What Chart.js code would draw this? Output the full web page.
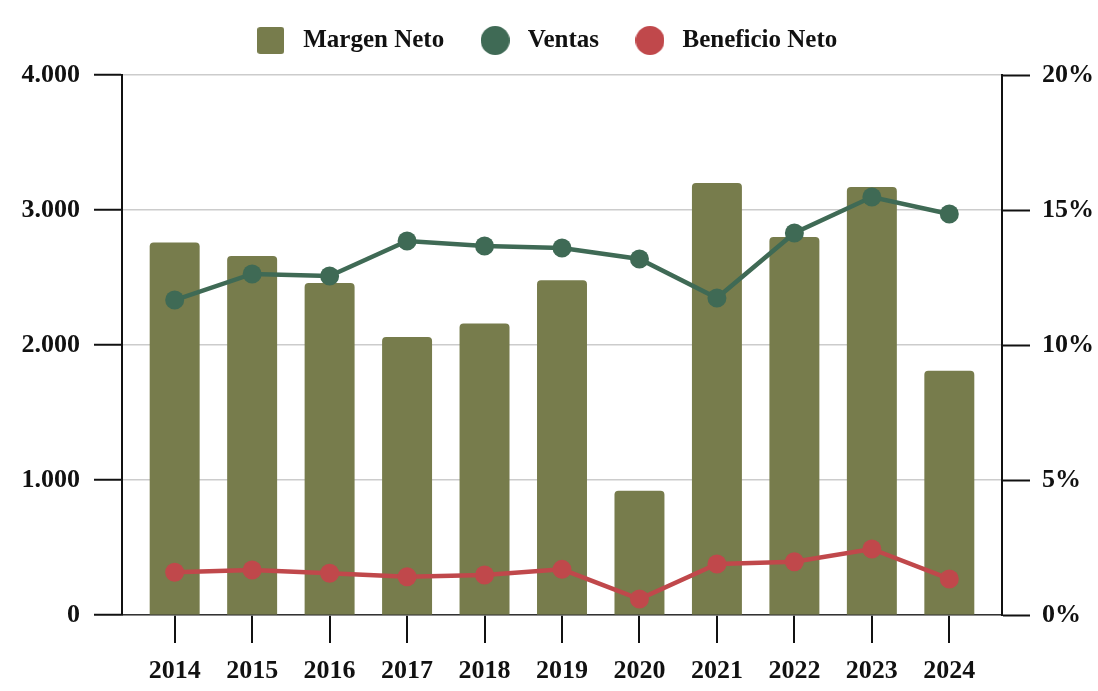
<!DOCTYPE html>
<html>
<head>
<meta charset="utf-8">
<script src="https://cdn.jsdelivr.net/npm/chart.js@4/dist/chart.umd.min.js"></script>
<style>
  html, body { margin: 0; padding: 0; background: #fff; }
  #wrap { width: 1098px; height: 691px; }
</style>
</head>
<body>
<div id="wrap"><canvas id="chart"></canvas></div>
<script>
// values
const years = ["2014", "2015", "2016", "2017", "2018", "2019", "2020", "2021", "2022", "2023", "2024"];
const margenNeto = [13.8, 13.3, 12.3, 10.3, 10.8, 12.4, 4.6, 16.0, 14.0, 15.85, 9.05];   // %
const ventas = [2333, 2526, 2511, 2770, 2733, 2719, 2637, 2348, 2830, 3096, 2970];
const beneficioNeto = [316, 333, 309, 284, 296, 338, 118, 378, 395, 489, 267];
const leftTicks = [0, 1000, 2000, 3000, 4000];
const rightTicks = [0, 5, 10, 15, 20];

const OLIVE = "#777c4c", GREEN = "#3f6a55", RED = "#c0484b";
const FAMILY = "'Liberation Serif', 'Times New Roman', serif";
const FONT = { family: FAMILY, size: 26, weight: "bold" };
const LEGEND_FONT = { family: FAMILY, size: 25, weight: "bold" };

// x runs on index positions so the outer categories get a little extra room
const pts = (arr) => arr.map((v, i) => ({ x: i, y: v }));
const EDGE = 0.68;

// legend symbols as small canvases
function legendSymbol(kind, color, size) {
  const c = document.createElement("canvas");
  c.width = size; c.height = size;
  const g = c.getContext("2d");
  g.fillStyle = color;
  g.beginPath();
  if (kind === "square") g.roundRect(0, 0, size, size, 3);
  else g.arc(size / 2, size / 2, size / 2, 0, Math.PI * 2);
  g.fill();
  return c;
}
const symbols = [legendSymbol("square", OLIVE, 27), legendSymbol("circle", GREEN, 29), legendSymbol("circle", RED, 29)];

const thousands = (v) => String(v).replace(/\B(?=(\d{3})+(?!\d))/g, ".");

// more room under the legend, and nudge it a bit left
const legendGap = {
  id: "legendGap",
  beforeInit(chart) {
    const fit = chart.legend.fit;
    chart.legend.fit = function () { fit.call(this); this.height += 12; };
  },
  afterLayout(chart) {
    chart.legend.left -= 5;
    chart.legend.right -= 5;
  }
};

new Chart(document.getElementById("chart"), {
  data: {
    datasets: [
      { type: "bar", label: "Margen Neto", data: pts(margenNeto), yAxisID: "yR", backgroundColor: OLIVE,
        borderRadius: 4, categoryPercentage: 1, barPercentage: 0.645, order: 3 },
      { type: "line", label: "Ventas", data: pts(ventas), yAxisID: "yL", borderColor: GREEN, backgroundColor: GREEN,
        borderWidth: 4.5, pointRadius: 9.5, pointBackgroundColor: GREEN, pointBorderWidth: 0, order: 1 },
      { type: "line", label: "Beneficio Neto", data: pts(beneficioNeto), yAxisID: "yL", borderColor: RED, backgroundColor: RED,
        borderWidth: 4.5, pointRadius: 9.5, pointBackgroundColor: RED, pointBorderWidth: 0, order: 2 }
    ]
  },
  plugins: [legendGap],
  options: {
    responsive: true,
    maintainAspectRatio: false,
    animation: false,
    events: [],
    layout: { padding: { top: -3, left: 0, right: 0, bottom: 0 } },
    plugins: {
      tooltip: { enabled: false },
      legend: {
        position: "top",
        labels: {
          usePointStyle: true,
          pointStyleWidth: 40,
          padding: 31,
          color: "#111",
          font: LEGEND_FONT,
          generateLabels: (chart) => chart.data.datasets.map((ds, i) => ({
            text: ds.label, pointStyle: symbols[i], fillStyle: "transparent", strokeStyle: "transparent",
            lineWidth: 0, hidden: false, datasetIndex: i, fontColor: "#111"
          }))
        }
      }
    },
    scales: {
      x: {
        type: "linear",
        min: -EDGE, max: years.length - 1 + EDGE,
        offset: false,
        afterBuildTicks: (s) => { s.ticks = years.map((y, i) => ({ value: i })); },
        grid: { display: true, offset: false, drawOnChartArea: false, drawTicks: true, tickLength: 28, color: "#111", lineWidth: 2 },
        border: { display: true, color: "#333", width: 1.5 },
        ticks: { color: "#111", font: FONT, padding: 13, maxRotation: 0, autoSkip: false, callback: (v) => years[v] },
        afterFit: (s) => { s.height = 76; }
      },
      yL: {
        position: "left",
        min: 0, max: 4000,
        afterBuildTicks: (s) => { s.ticks = leftTicks.map((v) => ({ value: v })); },
        grid: { color: "#cccccc", lineWidth: 1.5, tickColor: "#111", tickLength: 28, tickWidth: 2 },
        border: { display: true, color: "#111", width: 2 },
        ticks: { color: "#111", font: FONT, padding: 14, callback: (v) => thousands(v) },
        afterFit: (s) => { s.width = 122; }
      },
      yR: {
        position: "right",
        min: 0, max: 20,
        afterBuildTicks: (s) => { s.ticks = rightTicks.map((v) => ({ value: v })); },
        grid: { drawOnChartArea: false, tickColor: "#111", tickLength: 28, tickWidth: 2 },
        border: { display: true, color: "#111", width: 2 },
        ticks: { color: "#111", font: FONT, padding: 12, callback: (v) => v + "%" },
        afterFit: (s) => { s.width = 96; }
      }
    }
  }
});
</script>
</body>
</html>
